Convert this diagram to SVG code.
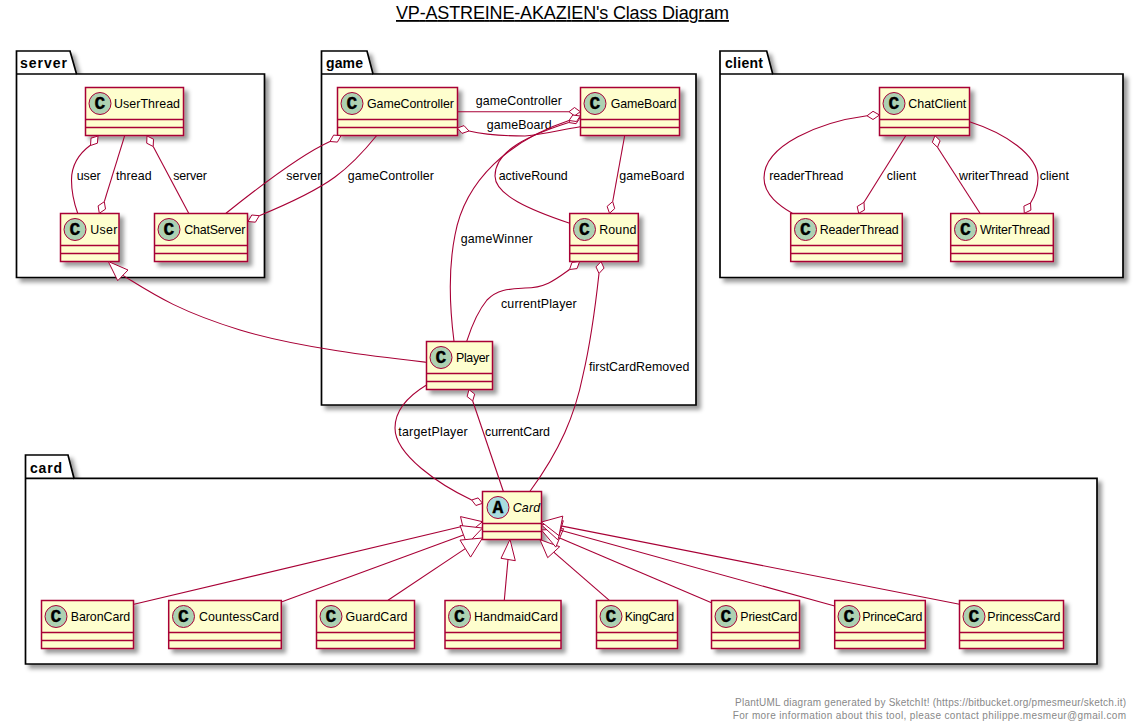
<svg xmlns="http://www.w3.org/2000/svg" width="1138" height="725" viewBox="0 0 1138 725">
<style>
text{font-family:"Liberation Sans",Arial,sans-serif;font-size:12.4px;fill:#000}
.box{fill:#FEFECE;stroke:#A80036;stroke-width:1.5;filter:url(#sh)}
.div{stroke:#A80036;stroke-width:1.5;fill:none}
.cc{fill:#ADD1B2;stroke:#A80036;stroke-width:1}
.ca{fill:#A9DCDF;stroke:#A80036;stroke-width:1}
.sp{font-family:"Liberation Mono",monospace;font-weight:bold;font-size:18px;text-anchor:middle;stroke:#000;stroke-width:.3}
.pk{fill:#fff;stroke:#000;stroke-width:1.7}
.pks{filter:url(#sh)}
.pn{font-weight:bold;font-size:14px}
.ln{fill:none;stroke:#A80036;stroke-width:1.1}
.dm{fill:#fff;stroke:#A80036;stroke-width:1}
.ft{font-size:10px;fill:#888}
</style>
<defs>
<filter id="sh" x="-10%" y="-10%" width="125%" height="130%"><feDropShadow dx="4" dy="4" stdDeviation="2" flood-color="#000" flood-opacity=".4"/></filter>
</defs>
<rect width="1138" height="725" fill="#fff"/>
<text id="title" x="396" y="19" textLength="333" style="font-size:18px" text-decoration="underline">VP-ASTREINE-AKAZIEN's Class Diagram</text>

<g id="pkg-server"><path class="pk pks" d="M16.5,51H70L76.5,74H264.5V277.5H16.5Z"/><path class="pk" d="M16.5,74H76.5" style="fill:none"/><text class="pn" x="20" y="68" textLength="47">server</text></g>
<g id="pkg-game"><path class="pk pks" d="M321.5,51H367L373,74H696V405H321.5Z"/><path class="pk" d="M321.5,74H373" style="fill:none"/><text class="pn" x="326" y="68" textLength="37">game</text></g>
<g id="pkg-client"><path class="pk pks" d="M720,51H766.7L772.7,74H1123V277.5H720Z"/><path class="pk" d="M720,74H772.7" style="fill:none"/><text class="pn" x="725" y="68" textLength="38">client</text></g>
<g id="pkg-card"><path class="pk pks" d="M25.5,455H68L74,478.3H1097V664H25.5Z"/><path class="pk" d="M25.5,478.3H74" style="fill:none"/><text class="pn" x="30" y="473" textLength="32">card</text></g>

<g id="UserThread"><rect class="box" x="85.5" y="87.5" width="98" height="48"/><path class="div" d="M85.5,119.5H183.5M85.5,127.5H183.5"/><circle class="cc" cx="100" cy="103.5" r="11"/><text class="sp" x="100" y="109">C</text><text x="114" y="108" textLength="66">UserThread</text></g>
<g id="User"><rect class="box" x="60.5" y="213.5" width="58.5" height="48"/><path class="div" d="M60.5,245.5H119M60.5,253.5H119"/><circle class="cc" cx="75" cy="229.5" r="11"/><text class="sp" x="75" y="235">C</text><text x="90.3" y="234" textLength="27">User</text></g>
<g id="ChatServer"><rect class="box" x="154.5" y="213.5" width="93" height="48"/><path class="div" d="M154.5,245.5H247.5M154.5,253.5H247.5"/><circle class="cc" cx="169" cy="229.5" r="11"/><text class="sp" x="169" y="235">C</text><text x="184.3" y="234" textLength="61">ChatServer</text></g>

<g id="GameController"><rect class="box" x="337.5" y="87.5" width="120" height="48"/><path class="div" d="M337.5,119.5H457.5M337.5,127.5H457.5"/><circle class="cc" cx="352" cy="103.5" r="11"/><text class="sp" x="352" y="109">C</text><text x="367" y="108" textLength="87">GameController</text></g>
<g id="GameBoard"><rect class="box" x="580.5" y="87.5" width="99" height="48"/><path class="div" d="M580.5,119.5H679.5M580.5,127.5H679.5"/><circle class="cc" cx="595" cy="103.5" r="11"/><text class="sp" x="595" y="109">C</text><text x="610.7" y="108" textLength="66">GameBoard</text></g>
<g id="Round"><rect class="box" x="569.7" y="213.5" width="68.6" height="48"/><path class="div" d="M569.7,245.5H638.3M569.7,253.5H638.3"/><circle class="cc" cx="584.5" cy="229.5" r="11"/><text class="sp" x="584.5" y="235">C</text><text x="599.3" y="234" textLength="37">Round</text></g>
<g id="Player"><rect class="box" x="426.5" y="341.5" width="66" height="48"/><path class="div" d="M426.5,373.5H492.5M426.5,381.5H492.5"/><circle class="cc" cx="441" cy="357.5" r="11"/><text class="sp" x="441" y="363">C</text><text x="456" y="362" textLength="33.5">Player</text></g>

<g id="ChatClient"><rect class="box" x="879.5" y="87.5" width="90" height="48"/><path class="div" d="M879.5,119.5H969.5M879.5,127.5H969.5"/><circle class="cc" cx="894" cy="103.5" r="11"/><text class="sp" x="894" y="109">C</text><text x="908.3" y="108" textLength="58">ChatClient</text></g>
<g id="ReaderThread"><rect class="box" x="790.7" y="213.5" width="111.6" height="48"/><path class="div" d="M790.7,245.5H902.3M790.7,253.5H902.3"/><circle class="cc" cx="805.5" cy="229.5" r="11"/><text class="sp" x="805.5" y="235">C</text><text x="819.7" y="234" textLength="79">ReaderThread</text></g>
<g id="WriterThread"><rect class="box" x="950.7" y="213.5" width="102.6" height="48"/><path class="div" d="M950.7,245.5H1053.3M950.7,253.5H1053.3"/><circle class="cc" cx="965.5" cy="229.5" r="11"/><text class="sp" x="965.5" y="235">C</text><text x="980" y="234" textLength="70">WriterThread</text></g>

<g id="Card"><rect class="box" x="482.5" y="491.5" width="59" height="48"/><path class="div" d="M482.5,523.5H541.5M482.5,531.5H541.5"/><circle class="ca" cx="498" cy="507.5" r="11"/><text class="sp" x="498" y="513">A</text><text x="512.7" y="512" textLength="27.5" font-style="italic">Card</text></g>
<g id="BaronCard"><rect class="box" x="41.5" y="600.5" width="92" height="48"/><path class="div" d="M41.5,632.5H133.5M41.5,640.5H133.5"/><circle class="cc" cx="56" cy="616.5" r="11"/><text class="sp" x="56" y="622">C</text><text x="70.7" y="621" textLength="59.5">BaronCard</text></g>
<g id="CountessCard"><rect class="box" x="168.7" y="600.5" width="112.6" height="48"/><path class="div" d="M168.7,632.5H281.3M168.7,640.5H281.3"/><circle class="cc" cx="183.5" cy="616.5" r="11"/><text class="sp" x="183.5" y="622">C</text><text x="199" y="621" textLength="80">CountessCard</text></g>
<g id="GuardCard"><rect class="box" x="316.5" y="600.5" width="98" height="48"/><path class="div" d="M316.5,632.5H414.5M316.5,640.5H414.5"/><circle class="cc" cx="331" cy="616.5" r="11"/><text class="sp" x="331" y="622">C</text><text x="345.5" y="621" textLength="62">GuardCard</text></g>
<g id="HandmaidCard"><rect class="box" x="445" y="600.5" width="116" height="48"/><path class="div" d="M445,632.5H561M445,640.5H561"/><circle class="cc" cx="459.5" cy="616.5" r="11"/><text class="sp" x="459.5" y="622">C</text><text x="474" y="621" textLength="84">HandmaidCard</text></g>
<g id="KingCard"><rect class="box" x="596.5" y="600.5" width="81" height="48"/><path class="div" d="M596.5,632.5H677.5M596.5,640.5H677.5"/><circle class="cc" cx="611" cy="616.5" r="11"/><text class="sp" x="611" y="622">C</text><text x="624.7" y="621" textLength="49.5">KingCard</text></g>
<g id="PriestCard"><rect class="box" x="711.5" y="600.5" width="88" height="48"/><path class="div" d="M711.5,632.5H799.5M711.5,640.5H799.5"/><circle class="cc" cx="726" cy="616.5" r="11"/><text class="sp" x="726" y="622">C</text><text x="740.3" y="621" textLength="57">PriestCard</text></g>
<g id="PrinceCard"><rect class="box" x="834.7" y="600.5" width="90.6" height="48"/><path class="div" d="M834.7,632.5H925.3M834.7,640.5H925.3"/><circle class="cc" cx="849" cy="616.5" r="11"/><text class="sp" x="849" y="622">C</text><text x="862.3" y="621" textLength="60">PrinceCard</text></g>
<g id="PrincessCard"><rect class="box" x="959.5" y="600.5" width="104" height="48"/><path class="div" d="M959.5,632.5H1063.5M959.5,640.5H1063.5"/><circle class="cc" cx="974" cy="616.5" r="11"/><text class="sp" x="974" y="622">C</text><text x="987.3" y="621" textLength="73">PrincessCard</text></g>

<g id="connectors">
<path class="ln" d="M90.7,145 C77,155 71.5,168 71.5,180 C71.5,192 74,203 77.7,213.3"/>
<polygon class="dm" points="98,136 97.4,143.2 90.5,145.5 91,138.2"/>
<text x="76.7" y="180" textLength="24">user</text>
<path class="ln" d="M124.7,135.7L104.3,201.7"/>
<polygon class="dm" points="99.3,213.3 105.5,209.1 104.3,201.7 98.1,205.9"/>
<text x="116" y="180" textLength="35.7">thread</text>
<path class="ln" d="M153.2,146.5L188.7,213.3"/>
<polygon class="dm" points="147,136 153.5,139.2 153.2,146.5 146.7,143.2"/>
<text x="173.3" y="180" textLength="33.7">server</text>

<path class="ln" d="M330,141.5 C300,155 255,190 226,213.3"/>
<polygon class="dm" points="341,135.7 337.4,142.1 330,141.5 333.6,135.1"/>
<text x="286.3" y="180" textLength="35">server</text>
<path class="ln" d="M259.3,215.7 C290,203 320,188 335,177 C350,166 365,150 376.7,135.5"/>
<polygon class="dm" points="248,221.5 255.4,222.2 259.3,215.7 251.8,215"/>
<text x="347.7" y="180" textLength="86.3">gameController</text>

<path class="ln" d="M457.5,111.7H569"/>
<polygon class="dm" points="580.3,111.7 574.5,107.5 569,111.7 574.5,115.9"/>
<text x="475.7" y="105" textLength="86.3">gameController</text>
<path class="ln" d="M469,131 C490,136 510,136 525,136 C545,134 560,130 580.3,126.7"/>
<polygon class="dm" points="457.5,128 464,125.6 469,131 462,133.4"/>
<text x="486.7" y="128.5" textLength="65">gameBoard</text>
<path class="ln" d="M569.7,223.3 C530,210 495,195 495,176 C495,150 530,135 568.7,122.5"/>
<polygon class="dm" points="580.3,117.5 572.9,116.3 568.7,122.5 576.1,123.7"/>
<text x="498.7" y="180" textLength="69">activeRound</text>
<path class="ln" d="M454,341.3 C450,310 448,270 455,235 C465,180 510,140 569,120.5"/>
<polygon class="dm" points="580.3,116 572.8,115 569,120.5 576.5,121.5"/>
<text x="460.7" y="243.3" textLength="72">gameWinner</text>
<path class="ln" d="M624.7,135.5L612.7,201.5"/>
<polygon class="dm" points="609.5,213.3 614.7,208.6 612.7,201.5 607.1,206.4"/>
<text x="619.3" y="180" textLength="65">gameBoard</text>
<path class="ln" d="M569.5,269.5 C555,280 545,288 525,288 C510,289 498,289 487,300 C477,312 471,328 466.7,341.3"/>
<polygon class="dm" points="579.5,261.7 577,268.6 569.5,269.5 572,262.4"/>
<text x="501" y="308" textLength="75.7">currentPlayer</text>
<path class="ln" d="M599,273.5 C595,310 590,345 583,375 C575,415 560,450 530,491.3"/>
<polygon class="dm" points="601,261.7 604,268.1 599,273.5 596,266.9"/>
<text x="589" y="371" textLength="100.3">firstCardRemoved</text>
<path class="ln" d="M122.8,275.4 C150,292 175,310 240,330 C300,348 380,357 426.5,362.3"/>
<polygon class="dm" points="108.3,261.5 128,270 117.7,280.7"/>

<path class="ln" d="M426.5,385 C405,398 395,412 395,428 C395,455 440,485 471.7,500"/>
<polygon class="dm" points="482.5,503.3 478.1,497.9 471.7,500 475.9,505.5"/>
<text x="398.3" y="436" textLength="69.4">targetPlayer</text>
<path class="ln" d="M472.7,401L503.3,491.3"/>
<polygon class="dm" points="469,389.7 474.7,394.1 472.7,401 467.1,396.5"/>
<text x="485" y="436" textLength="65">currentCard</text>

<path class="ln" d="M867,115.8 C820,122 764,145 764,178 C764,195 780,206 792.3,213.3"/>
<polygon class="dm" points="879.5,115 873,111.3 867,115.8 873,119.5"/>
<text x="769.3" y="180" textLength="74">readerThread</text>
<path class="ln" d="M905.7,135.7L864,202.3"/>
<polygon class="dm" points="858.7,213.3 864.4,210.1 864,202.3 857.2,206.5"/>
<text x="886.7" y="180" textLength="29.6">client</text>
<path class="ln" d="M937.5,147.3L980,213.3"/>
<polygon class="dm" points="935,135.7 940.1,140.7 937.5,147.3 932.3,142.3"/>
<text x="959" y="180" textLength="69.3">writerThread</text>
<path class="ln" d="M969.5,121.7 C1005,133 1038,155 1038,178 C1038,188 1035,196 1030.5,203"/>
<polygon class="dm" points="1024.3,213.3 1030.9,210.1 1030.5,203 1023.9,206.1"/>
<text x="1039.7" y="180" textLength="29.3">client</text>

<path class="ln" d="M462.8,526.3L134,604.3"/>
<polygon class="dm" points="482.5,521.7 465.1,536 460.5,516.6"/>
<path class="ln" d="M463.5,534.9L282,601.7"/>
<polygon class="dm" points="482.5,528 467,544.3 460,525.5"/>
<path class="ln" d="M465.3,548.6L388,600.3"/>
<polygon class="dm" points="482.5,538 470.6,557.1 460,540.1"/>
<path class="ln" d="M508,559.5L504.3,600.3"/>
<polygon class="dm" points="510,539.5 501,558.3 515.3,560.7"/>
<path class="ln" d="M553.7,552.2L609.3,600.3"/>
<polygon class="dm" points="540,539.7 547.7,557.7 559.7,546.7"/>
<path class="ln" d="M559.7,537.9L711.5,602.7"/>
<polygon class="dm" points="541.5,530 555.8,547.1 563.6,528.7"/>
<path class="ln" d="M560.6,530.3L834.7,606"/>
<polygon class="dm" points="541.5,525 557.9,539.9 563.3,520.7"/>
<path class="ln" d="M560.9,525.9L959.5,604.3"/>
<polygon class="dm" points="541.5,522 559,535.7 562.8,516.1"/>
</g>

<text class="ft" x="735" y="706" textLength="391">PlantUML diagram generated by SketchIt! (https://bitbucket.org/pmesmeur/sketch.it)</text>
<text class="ft" x="732.7" y="718.5" textLength="393.3">For more information about this tool, please contact philippe.mesmeur@gmail.com</text>
</svg>
